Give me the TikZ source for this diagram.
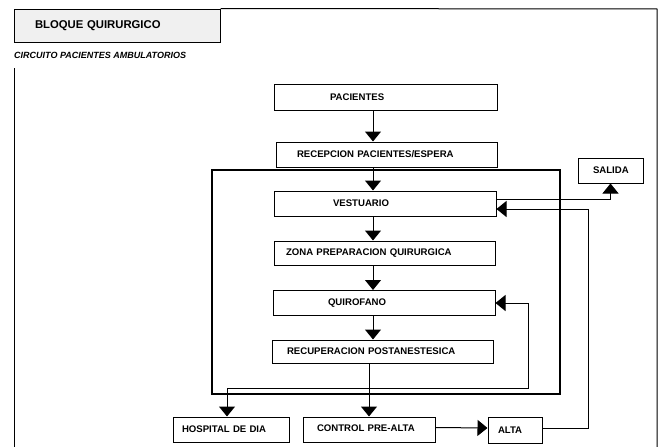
\documentclass[tikz,border=0pt]{standalone}
\usepackage{fontspec}
\setmainfont{Liberation Sans}
\usetikzlibrary{arrows.meta, positioning}

\tikzset{
    caja/.style={draw, line width=1pt, minimum height=25pt, inner xsep=0pt, inner ysep=0pt,
        align=left, font=\fontsize{9.6}{11}\selectfont\bfseries},
    flecha/.style={line width=1pt, -{Triangle[width=16pt,length=10pt]}},
    doble/.style={line width=1pt, {Triangle[width=16pt,length=10pt]}-{Triangle[width=16pt,length=10pt]}},
}

\begin{document}
\begin{tikzpicture}[x=1pt, y=-1pt]
            \useasboundingbox (0,0) rectangle (664,447);
            % cabecera
            \node [draw, line width=1pt, fill=gray!12, text width=206pt, minimum height=33pt, inner xsep=0pt,
                align=left, font=\fontsize{11.3}{13}\selectfont\bfseries] (titulo) at (117,25.5) {\hspace*{21pt}BLOQUE QUIRURGICO};
            \node [anchor=west, inner sep=0pt, font=\fontsize{9}{11}\selectfont\bfseries\itshape] (subtitulo) at (14,55.5) {CIRCUITO PACIENTES AMBULATORIOS};
            \draw [line width=1pt] (titulo.north east) -- (657,9) -- (657,447);
            \draw [line width=1pt] (14,68) -- (14,447);
            % circuito
            \node [caja, text width=223pt, minimum height=26pt] (pacientes) at (385.5,97) {\hspace*{56pt}PACIENTES};
            \node [caja, text width=221pt] (recepcion) at (386.5,154.5) {\hspace*{21pt}RECEPCION PACIENTES/ESPERA};
            \draw [line width=1.3pt] (212,170) rectangle (560,394);
            \node [caja, text width=222pt] (vestuario) at (385,203.5) {\hspace*{59pt}VESTUARIO};
            \node [caja, text width=221pt, minimum height=24pt] (zona) at (384.5,253) {\hspace*{12pt}ZONA PREPARACION QUIRURGICA};
            \node [caja, text width=222pt] (quirofano) at (384,303) {\hspace*{55pt}QUIROFANO};
            \node [caja, text width=221pt, minimum height=23pt] (recuperacion) at (382.5,351.5) {\hspace*{15pt}RECUPERACION POSTANESTESICA};
            \node [caja, text width=116pt] (hospital) at (231,429.5) {\hspace*{9pt}HOSPITAL DE DIA};
            \node [caja, text width=132pt] (control) at (369,429.5) {\hspace*{14pt}\raisebox{3pt}{CONTROL PRE-ALTA}};
            \node [caja, text width=54pt, minimum height=26pt] (alta) at (515,430) {\hspace*{10pt}\raisebox{-4pt}{ALTA}};
            \node [caja, text width=65pt] (salida) at (610.5,170.5) {\hspace*{15pt}SALIDA};
            % conexiones
            \coordinate (eje) at (373,0);
            \foreach \a/\b in {pacientes/recepcion, recepcion/vestuario, vestuario/zona, zona/quirofano, quirofano/recuperacion}
                \draw [flecha] (\a.south -| eje) -- (\b.north -| eje);
            \draw [flecha] (recuperacion.south -| control.north) -- (control.north);
            \draw [flecha] ([yshift=2pt]control.east) -- ([yshift=2pt]alta.west);
            \draw [flecha] ([yshift=4pt]vestuario.east) -| (salida.south);
            \coordinate (retorno) at (588,209);
            \draw [flecha] ([yshift=2pt]alta.east) -| (retorno) -- ([yshift=-5.5pt]vestuario.east);
            \coordinate (codoA) at (227,388);
            \coordinate (codoB) at (528,388);
            \draw [doble] (codoA |- hospital.north) -- (codoA) -- (codoB) |- (quirofano.east);
        \end{tikzpicture}
\end{document}
